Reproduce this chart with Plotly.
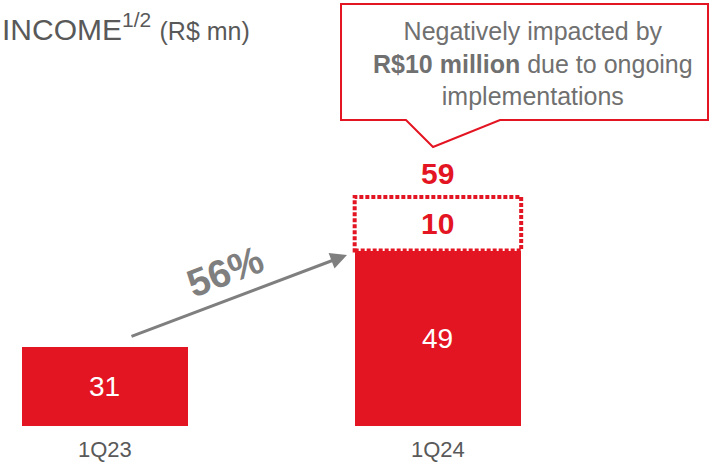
import plotly.graph_objects as go

# ---- data ----
categories = ["1Q23", "1Q24"]
income = [31, 49]
impact = [0, 10]          # negative impact from ongoing implementations
totals = [31, 59]
growth_label = "56%"

RED = "#E41522"
GRAY = "#595959"
TXT = "#707070"

W, H = 710, 465
M_B = 39
PLOT_H = H - M_B
YMIN, YMAX = 16.3, 95.7

def px(x):
    return x / W

def py(y):
    return (PLOT_H - y) / PLOT_H

FONT = "Liberation Sans, Arial"

fig = go.Figure()
fig.add_trace(go.Bar(x=categories, y=income, width=0.5,
                     marker=dict(color=RED, line=dict(width=0)),
                     hoverinfo="skip"))
fig.add_trace(go.Bar(x=categories, y=impact, width=0.5,
                     marker=dict(color="rgba(0,0,0,0)", line=dict(width=0)),
                     hoverinfo="skip"))

# dotted outline for the impact segment
for i, c in enumerate(categories):
    if impact[i] > 0:
        fig.add_shape(type="rect", xref="x", yref="y",
                      x0=i - 0.25, x1=i + 0.25,
                      y0=income[i], y1=income[i] + impact[i],
                      line=dict(color=RED, width=4, dash="4px,2px"),
                      fillcolor="rgba(0,0,0,0)")
        fig.add_annotation(x=c, y=income[i] + impact[i] / 2, text=f"<b>{impact[i]}</b>",
                           showarrow=False, xanchor="center", yanchor="middle",
                           font=dict(size=30, color=RED, family=FONT))
        fig.add_annotation(x=c, y=income[i] + impact[i], text=f"<b>{totals[i]}</b>",
                           showarrow=False, xanchor="center", yanchor="bottom", yshift=5,
                           font=dict(size=30, color=RED, family=FONT))

# value labels inside bars
for c, v in zip(categories, income):
    fig.add_annotation(x=c, y=(YMIN + v) / 2, text=str(v), showarrow=False,
                       xanchor="center", yanchor="middle",
                       font=dict(size=28, color="white", family=FONT))

# title
fig.add_annotation(xref="paper", yref="paper", x=0, y=py(27), xanchor="left", yanchor="middle",
                   text="INCOME<sup>1/2</sup> <span style='font-size:25px'>(R$ mn)</span>",
                   showarrow=False, font=dict(size=30, color=GRAY, family=FONT))

# callout box
pts = [(341, 120), (406, 120), (433, 147), (500, 120), (708, 120), (708, 4), (341, 4)]
path = "M " + " L ".join(f"{px(a):.4f},{py(b):.4f}" for a, b in pts) + " Z"
fig.add_shape(type="path", xref="paper", yref="paper", path=path,
              line=dict(color=RED, width=2), fillcolor="white")
fig.add_annotation(xref="paper", yref="paper", x=px(533), y=py(63),
                   xanchor="center", yanchor="middle",
                   text="Negatively impacted by<br><b>R$10 million</b> due to ongoing<br>implementations",
                   showarrow=False, align="center",
                   font=dict(size=25, color=TXT, family=FONT))

# growth arrow
fig.add_annotation(xref="paper", yref="paper", x=px(347), y=py(255),
                   ax=130 - 347, ay=337 - 255, axref="pixel", ayref="pixel",
                   text="", showarrow=True, arrowhead=2, arrowsize=1.1, arrowwidth=3,
                   arrowcolor="#7F7F7F")
fig.add_annotation(xref="paper", yref="paper", x=px(225), y=py(271),
                   xanchor="center", yanchor="middle",
                   text=f"<b>{growth_label}</b>", showarrow=False, textangle=-21,
                   font=dict(size=39, color="#7F7F7F", family=FONT))

fig.update_layout(
    width=W, height=H, barmode="stack", showlegend=False,
    margin=dict(l=0, r=0, t=0, b=M_B, autoexpand=False),
    paper_bgcolor="white", plot_bgcolor="white",
    xaxis=dict(range=[-0.315, 1.817], showgrid=False, zeroline=False, showline=False,
               ticks="", tickfont=dict(size=22, color=GRAY, family=FONT),
               ticklabelstandoff=8, automargin=False, fixedrange=True),
    yaxis=dict(range=[YMIN, YMAX], visible=False, automargin=False, fixedrange=True),
)

fig.write_html("out.html")
